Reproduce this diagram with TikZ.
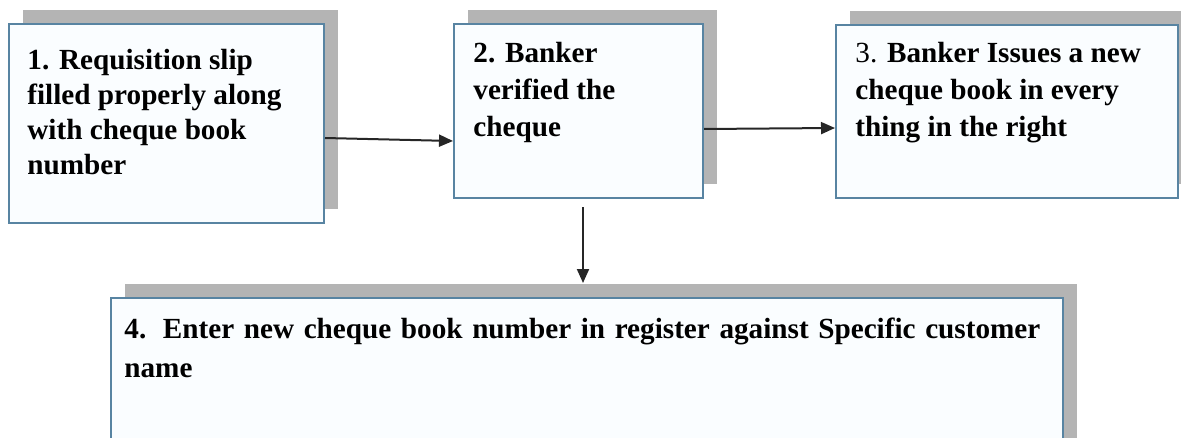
\documentclass[tikz,border=0pt]{standalone}
\usepackage{fontspec}
\setmainfont{Liberation Serif}
\usepackage{tikz}
\usetikzlibrary{arrows.meta, positioning, shadows}
\definecolor{boxline}{RGB}{88,132,162}
\definecolor{boxfill}{RGB}{250,253,255}
\definecolor{shade}{RGB}{180,180,180}
\tikzset{
  stepbox/.style={rectangle, draw=boxline, fill=boxfill, line width=1pt,
                  anchor=north west, inner sep=0pt,
                  drop shadow={shadow xshift=7pt, shadow yshift=7pt, fill=shade, opacity=1}},
  steptxt/.style={anchor=base west, align=left, inner sep=0pt,
                  font=\fontsize{14.6}{18.5}\selectfont\bfseries},
  flow/.style={-{Triangle[length=7pt, width=6pt]}, line width=1pt, draw=black!85},
}

\begin{document}
\begin{tikzpicture}[x=0.5pt, y=-0.5pt]
  \useasboundingbox (0,0) rectangle (1181,438);
  \clip (0,0) rectangle (1181,438);
  % step boxes
  \node[stepbox, minimum width=157.5pt, minimum height=99.5pt] (b1) at (8,23)   {};
  \node[stepbox, minimum width=124.5pt, minimum height=87pt]   (b2) at (453,23) {};
  \node[stepbox, minimum width=171pt,   minimum height=86.5pt] (b3) at (835,24) {};
  \node[stepbox, minimum width=476pt,   minimum height=82pt]   (b4) at (110,297) {};
  % texts (anchored on the last baseline)
  \node[steptxt, font=\fontsize{14.6}{17.5}\selectfont\bfseries] (t1) at (27,175)
    {1. Requisition slip\\filled properly along\\with cheque book\\number};
  \node[steptxt] (t2) at (473,137) {2. Banker\\verified the\\cheque};
  \node[steptxt] (t3) at (855,137) {{\mdseries 3.} Banker Issues a new\\cheque book in every\\thing in the right};
  \node[steptxt, align=justify, text width=458pt,
        font=\fontsize{14.6}{19.5}\selectfont\bfseries] (t4) at (124,338)
    {4. Enter new cheque book number in register against Specific customer\linebreak name};
  % arrows
  \coordinate (a3) at ([xshift=2.25pt, yshift=-4pt]b2.south);
  \draw[flow] ([yshift=-7.25pt]b1.east) -- ([yshift=-15pt]b2.west);
  \draw[flow] ([yshift=-9pt]b2.east) -- ([yshift=-8.25pt]b3.west);
  \draw[flow] (a3) -- ([yshift=7pt]a3 |- b4.north);
\end{tikzpicture}
\end{document}
